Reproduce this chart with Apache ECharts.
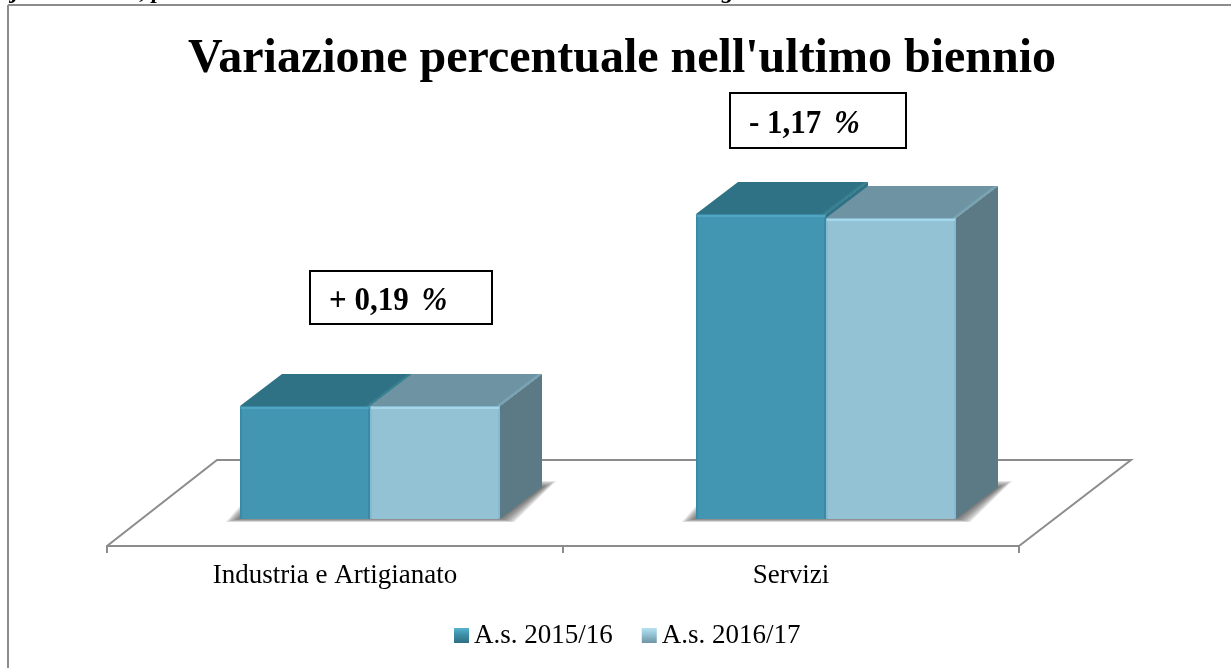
<!DOCTYPE html>
<html>
<head>
<meta charset="utf-8">
<style>
html, body { margin: 0; padding: 0; background: #fff; overflow: hidden; }
#main { width: 1231px; height: 668px; }
</style>
<script src="https://cdn.jsdelivr.net/npm/echarts@6/dist/echarts.min.js"></script>
</head>
<body>
<div id="main"></div>
<script>
var categories = ['Industria e Artigianato', 'Servizi'];
var seriesNames = ['A.s. 2015/16', 'A.s. 2016/17'];
// no value axis in the picture: heights read as an index, Servizi 2015/16 = 100
var values2015 = [37.0, 100];
var values2016 = [37.1, 98.8];
var variationLabels = ['+ 0,19 ', '- 1,17 '];
var titleText = "Variazione percentuale nell'ultimo biennio";

var serif = '"Liberation Serif", "Times New Roman", serif';
var depthX = 42, depthY = 32;   // how far the boxes go back
var shiftX = 35, shiftY = 27;   // boxes stand inside the floor, not on the axis line
var barW = 130;

var palette = [
    {front: '#4296b2', edge: '#3a8aa6', light: '#4fa6c2', top: '#2f7185', topEdge: '#37808f', side: '#2f7185'},
    {front: '#93c2d5', edge: '#86bad0', light: '#a6d6ea', top: '#6e93a3', topEdge: '#78a3b3', side: '#5b7a85'}
];

function floorItem(params, api) {
    var c = params.coordSys;
    var bottom = c.y + c.height;
    return {
        type: 'polyline',
        silent: true,
        shape: {points: [[c.x, bottom], [c.x + 110, bottom - 86], [c.x + c.width + 112, bottom - 86], [c.x + c.width, bottom]]},
        style: {fill: null, stroke: '#8c8c8c', lineWidth: 2}
    };
}

// soft floor shadow: stacked see-through polygons, each a bit larger than the last
function shadowItem(params, api) {
    var p = api.coord([api.value(0), 0]);
    var x = p[0] + shiftX, y = p[1] - shiftY;
    var layers = [];
    for (var g = 0; g < 7; g++) {
        var d = g * 2;
        layers.push({
            type: 'polygon',
            silent: true,
            shape: {points: [
                [x - barW - 2 - d, y + d / 4],
                [x - barW + 2, y - 3 - d],
                [x + barW + depthX, y - depthY - d / 2],
                [x + barW + depthX + 2 + d, y - depthY - d / 2],
                [x + barW + 2 + d, y + d / 4]
            ]},
            style: {fill: 'rgba(70,70,70,0.15)'}
        });
    }
    return {type: 'group', children: layers};
}

function barItem(s) {
    return function (params, api) {
        var col = palette[s];
        var base = api.coord([api.value(0), 0]);
        var head = api.coord([api.value(0), api.value(1)]);
        var x0 = Math.round(base[0] + shiftX + (s === 0 ? -barW : 0));
        var x1 = x0 + barW;
        var y0 = Math.round(head[1] - shiftY);
        var y1 = Math.round(base[1] - shiftY);
        return {
            type: 'group',
            children: [
                {type: 'polygon', shape: {points: [[x1, y0], [x1 + depthX, y0 - depthY], [x1 + depthX, y1 - depthY], [x1, y1]]}, style: {fill: col.side}},
                {type: 'polygon', shape: {points: [[x0, y0], [x0 + depthX, y0 - depthY], [x1 + depthX, y0 - depthY], [x1, y0]]}, style: {fill: col.top}},
                {type: 'polygon', shape: {points: [[x1 - 4, y0], [x1 - 4 + depthX, y0 - depthY], [x1 + depthX, y0 - depthY], [x1, y0]]}, style: {fill: col.topEdge}},
                {type: 'rect', shape: {x: x0, y: y0, width: barW, height: y1 - y0, r: 1}, style: {fill: col.edge}},
                {type: 'rect', shape: {x: x0 + 2, y: y0 + 3, width: barW - 4, height: y1 - y0 - 3}, style: {fill: col.front}},
                {type: 'rect', shape: {x: x0 + 1, y: y0 + 1, width: barW - 2, height: 2}, style: {fill: col.light}}
            ]
        };
    };
}

function pairs(arr) {
    var out = [];
    for (var i = 0; i < arr.length; i++) {
        out.push([i, arr[i]]);
    }
    return out;
}

function labelBox(text, x, y, w, h, pad) {
    return {
        type: 'group',
        children: [
            {type: 'rect', shape: {x: x, y: y, width: w, height: h}, style: {fill: '#fff', stroke: '#000', lineWidth: 2}},
            {
                type: 'text',
                x: x + pad,
                y: y + h / 2 + 4,
                scaleY: 1.12,
                style: {
                    text: text + '{p|%}',
                    font: 'bold 31px ' + serif,
                    fill: '#000',
                    textVerticalAlign: 'middle',
                    rich: {p: {font: 'italic bold 31px ' + serif, fill: '#000', padding: [0, 0, 0, 5]}}
                }
            }
        ]
    };
}

function clipped(text, x) {
    return {type: 'text', x: x, y: 4, style: {text: text, font: 'italic bold 24px ' + serif, fill: '#000', textVerticalAlign: 'bottom'}};
}

var myChart = echarts.init(document.getElementById('main'), null, {renderer: 'canvas'});
myChart.setOption({
    animation: false,
    backgroundColor: '#fff',
    textStyle: {fontFamily: serif},
    title: {
        text: titleText,
        left: 617,
        top: 31,
        textAlign: 'center',
        textStyle: {fontFamily: serif, fontWeight: 'bold', fontSize: 48, color: '#000'}
    },
    legend: {
        data: seriesNames,
        icon: 'rect',
        top: 617,
        left: 449,
        itemWidth: 15,
        itemHeight: 15,
        itemGap: 29,
        textStyle: {fontFamily: serif, fontSize: 27, color: '#000', padding: [0, 0, 0, 0]}
    },
    grid: {left: 107, top: 58, width: 912, height: 488, containLabel: false},
    xAxis: {
        type: 'category',
        data: categories,
        axisLine: {lineStyle: {color: '#8c8c8c', width: 2}},
        axisTick: {show: true, length: 7, alignWithLabel: false, lineStyle: {color: '#8c8c8c', width: 2}},
        axisLabel: {fontFamily: serif, fontSize: 27, color: '#000', margin: 16}
    },
    yAxis: {type: 'value', min: 0, max: 160, show: false},
    graphic: [
        clipped('j', 12),
        clipped(',', 140),
        clipped('p', 152),
        clipped('g', 722),
        {type: 'line', shape: {x1: 8, y1: 5, x2: 1231, y2: 5}, style: {stroke: '#8c8c8c', lineWidth: 2}},
        {type: 'line', shape: {x1: 8, y1: 5, x2: 8, y2: 668}, style: {stroke: '#8c8c8c', lineWidth: 2}},
        labelBox(variationLabels[1], 730, 93, 176, 55, 19),
        labelBox(variationLabels[0], 310, 271, 182, 53, 19)
    ],
    series: [
        {type: 'custom', silent: true, tooltip: {show: false}, renderItem: floorItem, data: [[0, 0]], z: 1},
        {type: 'custom', silent: true, tooltip: {show: false}, renderItem: shadowItem, data: pairs(values2015), encode: {x: 0, y: 1}, z: 2},
        {
            name: seriesNames[0],
            type: 'custom',
            renderItem: barItem(0),
            data: pairs(values2015),
            encode: {x: 0, y: 1},
            z: 3,
            itemStyle: {color: new echarts.graphic.LinearGradient(0, 0, 0, 1, [{offset: 0, color: '#55b4d0'}, {offset: 0.45, color: '#3d8ea8'}, {offset: 1, color: '#2f6f84'}])}
        },
        {
            name: seriesNames[1],
            type: 'custom',
            renderItem: barItem(1),
            data: pairs(values2016),
            encode: {x: 0, y: 1},
            z: 4,
            itemStyle: {color: new echarts.graphic.LinearGradient(0, 0, 0, 1, [{offset: 0, color: '#b4e2f2'}, {offset: 0.45, color: '#93c2d5'}, {offset: 1, color: '#6e93a3'}])}
        }
    ]
});
</script>
</body>
</html>
